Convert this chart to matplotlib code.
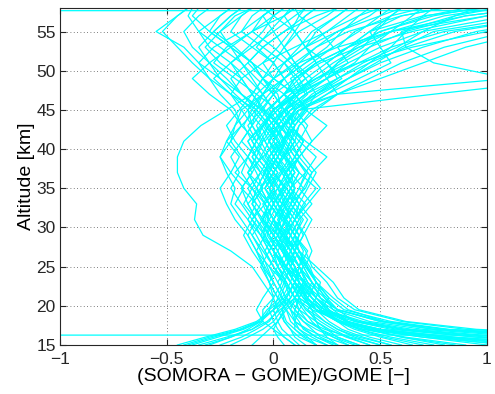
import matplotlib
matplotlib.use("Agg")
import matplotlib.pyplot as plt
import numpy as np

plt.rcParams['font.family'] = ['Liberation Sans', 'DejaVu Sans']

# altitude levels [km] of the profiles
altitude = [15, 16, 17, 18, 19.5, 21, 23, 25, 27, 29, 31, 33, 35, 37, 39, 41,
            43, 45, 47, 49, 51, 53, 55, 57, 58]

# relative differences (SOMORA - GOME)/GOME for each profile
profiles = [
    [1.5, 0.95, 0.55, 0.38, 0.3, 0.25, 0.18, 0.12, 0.08, 0.03, 0.05, 0.0, -0.04, 0.02, -0.03, -0.08, -0.05, 0.02, 0.12, 0.25, 0.4, 0.55, 0.8, 1.3, 1.7],
    [1.8, 1.2, 0.7, 0.45, 0.28, 0.2, 0.22, 0.15, 0.1, 0.12, 0.06, 0.08, 0.1, 0.05, 0.12, 0.08, 0.03, -0.02, 0.05, 0.1, 0.2, 0.35, 0.5, 0.75, 0.95],
    [2.8, 1.6, 0.9, 0.6, 0.38, 0.3, 0.25, 0.18, 0.15, 0.1, 0.13, 0.08, 0.15, 0.18, 0.25, 0.15, 0.08, 0.05, 0.1, 0.2, 0.32, 0.45, 0.62, 0.9, 1.2],
    [1.6, 1.05, 0.62, 0.4, 0.22, 0.15, 0.1, 0.05, 0.0, -0.05, -0.02, -0.08, -0.12, -0.06, -0.1, -0.05, 0.0, -0.05, -0.15, -0.2, -0.12, -0.05, 0.05, 0.15, 0.2],
    [1.3, 0.8, 0.48, 0.34, 0.26, 0.2, 0.12, 0.1, 0.05, 0.08, 0.0, 0.04, -0.02, 0.03, 0.08, 0.02, -0.04, 0.0, 0.08, 0.15, 0.1, 0.2, 0.35, 0.6, 0.8],
    [1.5, 0.95, 0.58, 0.38, 0.2, 0.12, 0.15, 0.08, 0.12, 0.05, 0.1, 0.15, 0.08, 0.12, 0.05, 0.1, 0.05, 0.12, 0.25, 0.35, 0.5, 0.7, 0.95, 1.4, 1.9],
    [2.5, 1.45, 0.8, 0.52, 0.35, 0.28, 0.2, 0.15, 0.18, 0.15, 0.1, 0.05, 0.1, 0.08, 0.02, 0.05, 0.08, 0.15, 0.2, 0.15, 0.08, 0.0, -0.1, -0.05, 0.0],
    [1.4, 0.85, 0.5, 0.35, 0.24, 0.18, 0.1, 0.12, 0.06, 0.0, -0.05, -0.1, -0.05, -0.12, -0.08, -0.15, -0.1, -0.12, -0.08, 0.0, 0.12, 0.3, 0.55, 1.0, 1.4],
    [3.0, 1.7, 0.95, 0.62, 0.4, 0.33, 0.28, 0.2, 0.12, 0.1, 0.05, 0.1, 0.06, 0.0, 0.05, 0.1, 0.02, 0.08, 0.3, 0.45, 0.6, 0.8, 1.1, 1.6, 2.0],
    [1.7, 1.1, 0.65, 0.42, 0.24, 0.14, 0.08, 0.02, -0.02, 0.02, -0.05, 0.0, 0.05, 0.0, -0.05, 0.02, -0.03, -0.1, -0.18, -0.25, -0.3, -0.35, -0.28, -0.2, -0.15],
    [2.2, 1.3, 0.75, 0.5, 0.3, 0.22, 0.18, 0.14, 0.1, 0.05, 0.0, 0.05, 0.02, 0.08, 0.05, 0.0, 0.05, 0.1, 0.05, 0.12, 0.2, 0.15, 0.25, 0.35, 0.4],
    [1.2, 0.75, 0.45, 0.3, 0.2, 0.16, 0.12, 0.06, 0.08, 0.12, 0.08, 0.02, 0.0, -0.05, 0.0, -0.04, -0.08, -0.03, 0.05, 0.2, 0.4, 0.65, 1.0, 1.5, 2.0],
    [2.6, 1.5, 0.82, 0.55, 0.33, 0.26, 0.2, 0.17, 0.12, 0.08, 0.12, 0.18, 0.12, 0.15, 0.1, 0.05, 0.0, 0.05, 0.15, 0.1, 0.05, 0.12, 0.18, 0.3, 0.35],
    [1.35, 0.85, 0.5, 0.34, 0.25, 0.2, 0.14, 0.1, 0.04, -0.02, 0.03, -0.02, -0.06, -0.02, -0.08, -0.12, -0.05, 0.0, 0.1, 0.25, 0.38, 0.45, 0.55, 0.65, 0.7],
    [-0.45, -0.32, -0.18, -0.08, 0.0, 0.08, 0.12, 0.1, 0.05, 0.0, -0.05, -0.02, -0.08, -0.12, -0.08, -0.05, -0.1, -0.08, -0.02, 0.05, 0.0, -0.1, -0.2, -0.15, -0.1],
    [-0.4, -0.28, -0.15, -0.06, -0.02, 0.05, 0.1, 0.05, 0.02, -0.02, -0.08, -0.12, -0.15, -0.1, -0.15, -0.2, -0.15, -0.18, -0.25, -0.3, -0.38, -0.45, -0.52, -0.45, -0.4],
    [-0.35, -0.22, -0.1, -0.03, 0.03, 0.1, 0.15, 0.12, 0.08, 0.05, 0.02, 0.06, 0.1, 0.05, 0.0, 0.05, 0.02, -0.03, 0.05, 0.15, 0.25, 0.35, 0.45, 0.55, 0.6],
    [-0.3, -0.2, -0.1, -0.05, -0.05, 0.0, 0.04, 0.0, -0.05, -0.1, -0.15, -0.2, -0.18, -0.22, -0.25, -0.2, -0.18, -0.15, -0.05, 0.0, 0.1, 0.05, 0.0, -0.05, 0.0],
    [-0.42, -0.3, -0.16, -0.07, -0.03, 0.03, 0.06, 0.02, -0.02, -0.06, -0.02, -0.05, 0.0, -0.04, -0.02, 0.03, -0.02, -0.08, -0.15, -0.22, -0.3, -0.38, -0.42, -0.35, -0.3],
    [-0.25, -0.15, -0.08, -0.02, 0.02, 0.06, 0.1, 0.14, 0.1, 0.06, 0.1, 0.12, 0.08, 0.15, 0.2, 0.12, 0.06, 0.02, 0.1, 0.18, 0.28, 0.4, 0.55, 0.8, 1.05],
    [-0.32, -0.2, -0.12, -0.06, 0.0, 0.04, 0.08, 0.04, 0.0, -0.04, -0.1, -0.06, -0.1, -0.15, -0.12, -0.08, -0.12, -0.06, 0.0, -0.05, -0.1, -0.18, -0.28, -0.2, -0.15],
    [0.45, 0.35, 0.28, 0.22, 0.15, 0.12, 0.1, 0.05, 0.02, -0.03, 0.0, 0.04, 0.0, -0.03, 0.02, -0.02, 0.0, 0.05, 0.2, 0.35, 0.48, 0.6, 0.75, 1.2, 1.6],
    [0.6, 0.45, 0.35, 0.3, 0.25, 0.2, 0.15, 0.08, 0.05, 0.0, -0.05, -0.02, -0.06, 0.0, 0.04, 0.0, -0.05, 0.02, 0.1, 0.05, 0.0, -0.08, -0.02, 0.05, 0.1],
    [0.3, 0.25, 0.22, 0.2, 0.18, 0.15, 0.12, 0.08, 0.1, 0.05, 0.08, 0.05, 0.1, 0.06, 0.1, 0.05, 0.08, 0.1, 0.18, 0.3, 0.42, 0.58, 0.7, 0.85, 0.95],
    [0.2, 0.12, 0.08, 0.05, 0.02, 0.0, -0.02, -0.05, -0.08, -0.12, -0.18, -0.22, -0.25, -0.2, -0.25, -0.22, -0.15, -0.08, -0.05, -0.1, -0.15, -0.2, -0.25, -0.15, -0.1],
    [0.55, 0.42, 0.32, 0.26, 0.2, 0.16, 0.12, 0.1, 0.06, 0.02, 0.06, 0.1, 0.14, 0.18, 0.12, 0.08, 0.1, 0.05, 0.0, 0.05, 0.12, 0.2, 0.3, 0.45, 0.5],
    [0.1, 0.05, 0.0, -0.05, -0.08, -0.05, 0.0, -0.03, -0.06, -0.1, -0.05, -0.1, -0.08, -0.12, -0.05, -0.1, -0.05, 0.0, 0.08, 0.2, 0.35, 0.5, 0.7, 1.1, 1.5],
    [0.35, 0.28, 0.22, 0.18, 0.14, 0.1, 0.06, 0.02, 0.0, 0.04, 0.0, -0.04, 0.02, 0.06, 0.0, 0.05, 0.1, 0.15, 0.1, 0.0, -0.1, -0.2, -0.3, -0.25, -0.2],
    [0.8, 0.6, 0.45, 0.35, 0.28, 0.24, 0.2, 0.15, 0.12, 0.08, 0.05, 0.0, 0.05, 0.1, 0.06, 0.0, 0.05, 0.0, -0.05, 0.05, 0.15, 0.25, 0.32, 0.4, 0.45],
    [0.25, 0.15, 0.1, 0.06, 0.04, 0.08, 0.05, 0.0, -0.04, -0.08, -0.12, -0.08, -0.15, -0.1, -0.06, -0.1, -0.14, -0.1, -0.05, 0.0, -0.05, 0.02, 0.08, 0.12, 0.15],
    [0.4, 0.3, 0.25, 0.2, 0.12, 0.06, 0.02, -0.02, 0.02, 0.06, 0.1, 0.14, 0.2, 0.12, 0.08, 0.04, 0.0, 0.06, 0.15, 0.25, 0.3, 0.38, 0.5, 0.72, 0.9],
    [0.15, 0.1, 0.08, 0.05, 0.04, 0.06, 0.1, 0.12, 0.08, 0.1, 0.05, 0.08, 0.02, 0.06, 0.02, -0.02, 0.03, -0.05, -0.1, -0.15, -0.2, -0.1, 0.0, 0.1, 0.15],
    [0.5, 0.38, 0.3, 0.24, 0.18, 0.14, 0.1, 0.06, 0.02, -0.02, -0.06, -0.1, -0.05, -0.08, -0.12, -0.08, -0.02, 0.05, 0.15, 0.3, 0.45, 0.62, 0.85, 1.3, 1.8],
    [0.05, 0.02, 0.0, 0.02, 0.05, 0.1, 0.14, 0.1, 0.06, 0.02, -0.03, 0.0, -0.04, 0.0, 0.05, 0.1, 0.05, 0.0, -0.05, -0.12, -0.2, -0.3, -0.35, -0.25, -0.2],
    [0.7, 0.52, 0.4, 0.32, 0.22, 0.16, 0.1, 0.06, 0.1, 0.14, 0.18, 0.12, 0.16, 0.2, 0.14, 0.1, 0.12, 0.18, 0.3, 0.25, 0.2, 0.15, 0.1, 0.05, 0.08],
    [0.3, 0.2, 0.15, 0.1, 0.08, 0.04, 0.0, -0.05, -0.1, -0.14, -0.1, -0.15, -0.2, -0.16, -0.2, -0.15, -0.1, -0.15, -0.2, -0.28, -0.2, -0.12, -0.05, 0.0, 0.05],
    [0.65, 0.5, 0.38, 0.3, 0.24, 0.18, 0.12, 0.08, 0.04, 0.0, 0.04, 0.0, 0.04, 0.08, 0.12, 0.18, 0.25, 0.15, 0.05, 0.1, 0.2, 0.35, 0.55, 0.9, 1.2],
    [0.2, 0.16, 0.12, 0.1, 0.1, 0.12, 0.08, 0.04, 0.0, -0.04, 0.0, 0.04, 0.08, 0.04, -0.02, -0.06, -0.02, 0.04, 0.02, -0.05, -0.12, -0.05, 0.05, 0.2, 0.3],
    [0.45, 0.34, 0.26, 0.2, 0.16, 0.2, 0.16, 0.12, 0.14, 0.1, 0.06, 0.02, -0.02, 0.02, -0.04, 0.0, 0.04, 0.1, 0.22, 0.35, 0.45, 0.55, 0.62, 0.7, 0.75],
    [0.1, 0.05, 0.02, 0.0, -0.02, 0.0, -0.05, -0.1, -0.2, -0.33, -0.37, -0.36, -0.42, -0.45, -0.45, -0.42, -0.34, -0.22, -0.1, -0.05, 0.0, 0.05, 0.1, 0.15, 0.2],
    [0.35, 0.24, 0.16, 0.1, 0.06, 0.02, 0.05, 0.08, 0.04, 0.0, 0.03, 0.07, 0.03, -0.02, 0.02, 0.06, 0.0, -0.06, -0.15, -0.25, -0.35, -0.42, -0.55, -0.45, -0.4],
    [0.3, 0.22, 0.18, 0.14, 0.1, 0.12, 0.08, 0.1, 0.06, 0.02, 0.0, -0.04, 0.0, 0.04, 0.0, 0.04, 0.08, 0.12, 0.75, 1.4, 2.0, 2.5, 3.0, 3.5, 3.5],
    [0.4, 0.3, 0.22, 0.16, 0.12, 0.1, 0.14, 0.1, 0.06, 0.1, 0.05, 0.02, 0.06, 0.1, 0.05, 0.08, 0.12, 0.2, 0.3, 1.1, 0.75, 0.62, 0.6, 0.85, 1.05],
    [1.2, 0.8, 0.5, 0.32, 0.18, 0.1, 0.05, -0.02, -0.08, -0.12, -0.08, -0.14, -0.1, -0.18, -0.12, -0.08, -0.15, -0.2, -0.3, -0.38, -0.3, -0.2, -0.1, 0.0, 0.05],
    [0.9, 0.62, 0.42, 0.3, 0.2, 0.14, 0.18, 0.12, 0.16, 0.1, 0.14, 0.08, 0.12, 0.16, 0.1, 0.14, 0.08, 0.02, -0.08, -0.18, -0.28, -0.22, -0.1, 0.05, 0.1],
    [-0.2, -0.12, -0.05, 0.0, 0.04, 0.08, 0.12, 0.06, 0.1, 0.04, -0.02, 0.02, -0.04, 0.0, -0.06, -0.02, 0.02, 0.08, 0.2, 0.32, 0.25, 0.15, 0.2, 0.3, 0.35],
    [1.1, 0.75, 0.48, 0.34, 0.22, 0.26, 0.2, 0.16, 0.1, 0.04, 0.08, 0.12, 0.06, 0.0, 0.04, -0.02, 0.02, -0.04, -0.1, -0.05, 0.05, 0.15, 0.3, 0.5, 0.6],
    [0.5, 0.36, 0.24, 0.16, 0.1, 0.06, 0.02, 0.06, 0.0, -0.06, -0.12, -0.18, -0.14, -0.2, -0.16, -0.22, -0.18, -0.12, -0.05, 0.05, 0.15, 0.28, 0.4, 0.5, 0.55],
    [2.0, 1.3, 0.75, 0.5, 0.3, 0.24, 0.16, 0.12, 0.08, 0.12, 0.16, 0.1, 0.14, 0.08, 0.12, 0.06, 0.0, 0.05, 0.0, -0.08, -0.15, -0.25, -0.35, -0.4, -0.38],
    [0.28, 0.2, 0.14, 0.12, 0.08, 0.1, 0.06, 0.02, 0.06, 0.02, 0.06, 0.02, -0.02, 0.04, 0.1, 0.14, 0.08, 0.14, 0.25, 0.4, 0.55, 0.5, 0.45, 0.6, 0.8],
    [0.12, 0.08, 0.04, 0.02, 0.0, 0.02, -0.02, -0.06, -0.02, -0.06, -0.1, -0.04, -0.1, -0.06, -0.12, -0.18, -0.22, -0.16, -0.1, -0.15, -0.25, -0.32, -0.25, -0.18, -0.1],
    [1.1, 0.7, 0.42, 0.3, 0.2, 0.16, 0.1, 0.14, 0.1, 0.06, 0.02, 0.06, 0.1, 0.06, 0.12, 0.18, 0.14, 0.06, 0.1, 0.22, 0.3, 0.42, 0.48, 0.55, 0.6],
    [0.75, 0.55, 0.4, 0.3, 0.22, 0.18, 0.14, 0.1, 0.04, 0.0, -0.04, 0.0, -0.02, -0.06, -0.02, 0.02, -0.04, 0.0, 0.1, 0.18, 0.1, 0.05, 0.12, 0.25, 0.3],
    [-0.1, -0.06, -0.02, 0.02, 0.06, 0.12, 0.16, 0.12, 0.08, 0.02, 0.06, 0.1, 0.04, 0.1, 0.06, 0.02, -0.02, -0.08, -0.2, -0.3, -0.35, -0.28, -0.15, -0.05, 0.0],
    [2.3, 1.4, 0.8, 0.52, 0.3, 0.22, 0.14, 0.06, 0.1, 0.06, 0.1, 0.16, 0.22, 0.16, 0.1, 0.14, 0.06, 0.1, 0.2, 0.3, 0.25, 0.35, 0.45, 0.7, 1.0],
    [0.55, 0.4, 0.3, 0.24, 0.16, 0.1, 0.06, 0.0, -0.04, 0.0, -0.06, -0.02, -0.08, -0.04, -0.1, -0.06, -0.1, -0.05, 0.0, 0.1, 0.22, 0.4, 0.65, 1.0, 1.3],
    [0.2, 0.14, 0.1, 0.1, 0.12, 0.16, 0.2, 0.16, 0.12, 0.08, 0.12, 0.06, 0.02, -0.02, 0.02, 0.06, 0.1, 0.16, 0.1, 0.0, 0.05, 0.15, 0.1, 0.0, -0.05],
    [1.6, 1.0, 0.6, 0.4, 0.24, 0.18, 0.12, 0.08, 0.04, 0.08, 0.04, -0.02, 0.02, -0.04, 0.0, -0.04, 0.02, 0.08, 0.16, 0.12, 0.05, -0.05, -0.15, -0.1, -0.05],
    [-0.38, -0.26, -0.14, -0.06, 0.0, 0.06, 0.1, 0.06, 0.0, 0.04, 0.0, -0.04, -0.08, -0.04, 0.02, -0.02, -0.06, -0.12, -0.2, -0.15, -0.05, 0.1, 0.25, 0.4, 0.5],
    [0.85, 0.6, 0.44, 0.34, 0.26, 0.22, 0.18, 0.14, 0.1, 0.14, 0.1, 0.04, 0.08, 0.04, -0.02, 0.04, 0.1, 0.06, 0.12, 0.08, 0.18, 0.28, 0.22, 0.12, 0.1],
    [0.38, 0.28, 0.2, 0.14, 0.08, 0.04, 0.0, -0.04, -0.08, -0.04, -0.08, -0.12, -0.06, -0.02, -0.08, -0.12, -0.06, 0.0, 0.12, 0.25, 0.35, 0.3, 0.38, 0.55, 0.7],
    [1.0, 0.7, 0.46, 0.32, 0.2, 0.12, 0.08, 0.04, 0.08, 0.04, 0.0, 0.04, 0.08, 0.12, 0.06, 0.12, 0.16, 0.1, 0.05, -0.05, -0.1, -0.2, -0.3, -0.38, -0.35],
    [0.25, 0.18, 0.12, 0.08, 0.06, 0.02, -0.02, 0.02, -0.02, 0.02, 0.06, 0.02, 0.06, 0.0, 0.04, 0.08, 0.04, 0.12, 0.3, 0.5, 0.7, 0.9, 1.2, 1.6, 2.0],
]

# two profiles with extreme values at a single level
spike_low_x = [-40, 40]
spike_low_alt = [16.25, 16.27]
spike_high_x = [-40, 40]
spike_high_alt = [57.65, 57.67]

fig = plt.figure(figsize=(4.95, 3.94), dpi=100)
ax = fig.add_axes([0.1212, 0.1244, 0.8626, 0.8553])

color = '#00FFFF'
for prof in profiles:
    ax.plot(prof, altitude, color=color, lw=0.9)
ax.plot(spike_low_x, spike_low_alt, color=color, lw=0.9)
ax.plot(spike_high_x, spike_high_alt, color=color, lw=0.9)

ax.set_xlim(-1, 1)
ax.set_ylim(15, 58)
ax.set_xticks([-1, -0.5, 0, 0.5, 1])
ax.set_xticklabels(['\u22121', '\u22120.5', '0', '0.5', '1'])
ax.set_yticks([15, 20, 25, 30, 35, 40, 45, 50, 55])

ax.grid(True, linestyle=(0, (1, 3)), color='#555555', linewidth=0.6)
ax.tick_params(direction='in', top=True, right=True, labelsize=12.5, length=4,
               width=0.8, colors='#262626')
ax.tick_params(axis='x', pad=5)
ax.tick_params(axis='y', pad=3)
for s in ax.spines.values():
    s.set_linewidth(0.8)
    s.set_color('#262626')

ax.set_xlabel('(SOMORA \u2212 GOME)/GOME [\u2212]', fontsize=14, labelpad=1)
ax.set_ylabel('Altitude [km]', fontsize=14, labelpad=1)

fig.savefig('out.png', dpi=100)
